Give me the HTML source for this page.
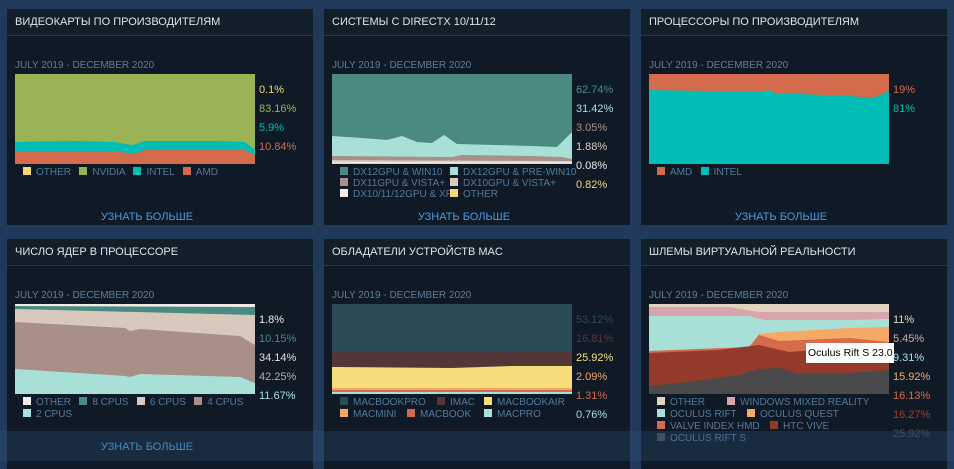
<!DOCTYPE html>
<html><head><meta charset="utf-8"><style>
*{margin:0;padding:0;box-sizing:border-box}
body{width:954px;height:461px;background:#21395a;overflow:hidden;position:relative;font-family:"Liberation Sans",sans-serif}
.p{position:absolute;width:306px;height:216px;background:#101a26}
.h{position:absolute;left:0;top:0;width:306px;height:27px;background:#131e2b;border-bottom:1px solid #1f3a55;color:#dfe4e8;font-size:11px;line-height:27px;padding-left:8px}
.d{position:absolute;left:8px;top:51px;font-size:10px;color:#5c7d99}
.c{position:absolute;left:8px;top:65px}
.pc{position:absolute;left:252px;font-size:11px}
.lg{position:absolute;font-size:10px;color:#53799b;white-space:nowrap}
.lg i{display:inline-block;width:8px;height:8px;margin-right:5px;vertical-align:0px}
.lk{position:absolute;top:202px;left:0;width:280px;text-align:center;font-size:11px;color:#4a9ae0}
.ov{position:absolute;left:0;top:431px;width:954px;height:30px;background:rgba(50,90,130,0.28)}
</style></head><body>

<!-- Panel 1 -->
<div class="p" style="left:7px;top:9px">
<div class="h">ВИДЕОКАРТЫ ПО ПРОИЗВОДИТЕЛЯМ</div>
<div class="d">JULY 2019 - DECEMBER 2020</div>
<svg class="c" width="240" height="90">
<rect width="240" height="90" fill="#9ab355"/>
<polygon fill="#00bdb5" points="0,68 60,67 100,68 110,70 118,71 130,67 200,67 230,68 240,76 240,90 0,90"/>
<polygon fill="#d36b4c" points="0,77 100,77 118,80 130,76 230,76 240,81 240,90 0,90"/>
</svg>
<div class="pc" style="top:75px;color:#f5d77a">0.1%</div>
<div class="pc" style="top:94px;color:#9ab355">83.16%</div>
<div class="pc" style="top:113px;color:#00bdb5">5.9%</div>
<div class="pc" style="top:132px;color:#d36b4c">10.84%</div>
<div class="lg" style="left:16px;top:158px"><i style="background:#f5d77a"></i>OTHER &nbsp; <i style="background:#9ab355"></i>NVIDIA &nbsp; <i style="background:#00bdb5"></i>INTEL &nbsp; <i style="background:#d36b4c"></i>AMD</div>
<div class="lk">УЗНАТЬ БОЛЬШЕ</div>
</div>

<!-- Panel 2 -->
<div class="p" style="left:324px;top:9px">
<div class="h">СИСТЕМЫ С DIRECTX 10/11/12</div>
<div class="d">JULY 2019 - DECEMBER 2020</div>
<svg class="c" width="240" height="90">
<rect width="240" height="90" fill="#4a8a80"/>
<polygon fill="#a8e0d8" points="0,62 30,64 55,66 70,62 85,68 100,69 112,61 125,70 200,72 225,73 240,58 240,90 0,90"/>
<polygon fill="#a89088" points="0,82 120,83 130,81 200,82 230,83 240,85 240,90 0,90"/>
<polygon fill="#d9c8bc" points="0,86 240,87 240,90 0,90"/>
<polygon fill="#f0ebe6" points="0,88 240,88 240,90 0,90"/>
<rect y="89" width="240" height="1" fill="#f5d77a"/>
</svg>
<div class="pc" style="top:75px;color:#4a8a80">62.74%</div>
<div class="pc" style="top:94px;color:#a8e0d8">31.42%</div>
<div class="pc" style="top:113px;color:#a89088">3.05%</div>
<div class="pc" style="top:132px;color:#d9c8bc">1.88%</div>
<div class="pc" style="top:151px;color:#f0ebe6">0.08%</div>
<div class="pc" style="top:170px;color:#f5d77a">0.82%</div>
<div class="lg" style="left:16px;top:158px;line-height:11px">
<span style="display:inline-block;width:110px"><i style="background:#4a8a80"></i>DX12GPU &amp; WIN10</span><i style="background:#a8e0d8"></i>DX12GPU &amp; PRE-WIN10<br>
<span style="display:inline-block;width:110px"><i style="background:#a89088"></i>DX11GPU &amp; VISTA+</span><i style="background:#d9c8bc"></i>DX10GPU &amp; VISTA+<br>
<span style="display:inline-block;width:110px"><i style="background:#f0ebe6"></i>DX10/11/12GPU &amp; XP</span><i style="background:#f5d77a"></i>OTHER</div>
<div class="lk">УЗНАТЬ БОЛЬШЕ</div>
</div>

<!-- Panel 3 -->
<div class="p" style="left:641px;top:9px">
<div class="h">ПРОЦЕССОРЫ ПО ПРОИЗВОДИТЕЛЯМ</div>
<div class="d">JULY 2019 - DECEMBER 2020</div>
<svg class="c" width="240" height="90">
<rect width="240" height="90" fill="#d36b4c"/>
<polygon fill="#00bdb5" points="0,16 60,17 110,18 115,17 120,16 125,19 200,22 225,24 240,17 240,90 0,90"/>
</svg>
<div class="pc" style="top:75px;color:#d36b4c">19%</div>
<div class="pc" style="top:94px;color:#00bdb5">81%</div>
<div class="lg" style="left:16px;top:158px"><i style="background:#d36b4c"></i>AMD &nbsp; <i style="background:#00bdb5"></i>INTEL</div>
<div class="lk">УЗНАТЬ БОЛЬШЕ</div>
</div>

<!-- Panel 4 -->
<div class="p" style="left:7px;top:239px;height:230px">
<div class="h">ЧИСЛО ЯДЕР В ПРОЦЕССОРЕ</div>
<div class="d">JULY 2019 - DECEMBER 2020</div>
<svg class="c" width="240" height="90">
<rect width="240" height="90" fill="#f0ebe6"/>
<polygon fill="#4a8a80" points="0,2 240,3 240,90 0,90"/>
<polygon fill="#d9c8bc" points="0,5 240,11 240,90 0,90"/>
<polygon fill="#a89088" points="0,18 110,24 115,27 125,25 225,32 240,41 240,90 0,90"/>
<polygon fill="#a8e0d8" points="0,65 110,72 115,73 125,70 225,73 240,79 240,90 0,90"/>
</svg>
<div class="pc" style="top:75px;color:#f0ebe6">1.8%</div>
<div class="pc" style="top:94px;color:#4a8a80">10.15%</div>
<div class="pc" style="top:113px;color:#e8e0d8">34.14%</div>
<div class="pc" style="top:132px;color:#c0aaa0">42.25%</div>
<div class="pc" style="top:151px;color:#a8e0d8">11.67%</div>
<div class="lg" style="left:16px;top:158px;line-height:12px"><i style="background:#f0ebe6"></i>OTHER &nbsp; <i style="background:#4a8a80"></i>8 CPUS &nbsp; <i style="background:#d9c8bc"></i>6 CPUS &nbsp; <i style="background:#a89088"></i>4 CPUS<br><i style="background:#a8e0d8"></i>2 CPUS</div>
<div class="lk">УЗНАТЬ БОЛЬШЕ</div>
</div>

<!-- Panel 5 -->
<div class="p" style="left:324px;top:239px;height:230px">
<div class="h">ОБЛАДАТЕЛИ УСТРОЙСТВ MAC</div>
<div class="d">JULY 2019 - DECEMBER 2020</div>
<svg class="c" width="240" height="90">
<rect width="240" height="90" fill="#2b4b57"/>
<polygon fill="#553638" points="0,47 80,48 160,47 240,47 240,90 0,90"/>
<polygon fill="#f7de7b" points="0,63 120,64 180,62 240,62 240,90 0,90"/>
<polygon fill="#f5a965" points="0,84 240,84 240,90 0,90"/>
<polygon fill="#d36b4c" points="0,86 240,86 240,90 0,90"/>
<rect y="88" width="240" height="2" fill="#a8e0d8"/>
</svg>
<div class="pc" style="top:75px;color:#2b4b57">53.12%</div>
<div class="pc" style="top:94px;color:#553638">16.81%</div>
<div class="pc" style="top:113px;color:#f7de7b">25.92%</div>
<div class="pc" style="top:132px;color:#f5a965">2.09%</div>
<div class="pc" style="top:151px;color:#d36b4c">1.31%</div>
<div class="pc" style="top:170px;color:#a8e0d8">0.76%</div>
<div class="lg" style="left:16px;top:158px;line-height:12px">
<span style="display:inline-block;width:97px"><i style="background:#2b4b57"></i>MACBOOKPRO</span><span style="display:inline-block;width:47px"><i style="background:#553638"></i>IMAC</span><i style="background:#f7de7b"></i>MACBOOKAIR<br>
<span style="display:inline-block;width:67px"><i style="background:#f5a965"></i>MACMINI</span><span style="display:inline-block;width:77px"><i style="background:#d36b4c"></i>MACBOOK</span><i style="background:#a8e0d8"></i>MACPRO</div>
</div>

<!-- Panel 6 -->
<div class="p" style="left:641px;top:239px;height:230px">
<div class="h">ШЛЕМЫ ВИРТУАЛЬНОЙ РЕАЛЬНОСТИ</div>
<div class="d">JULY 2019 - DECEMBER 2020</div>
<svg class="c" width="240" height="90">
<rect width="240" height="90" fill="#e2d4c0"/>
<polygon fill="#d9a5ab" points="0,3 80,3 110,8 240,8 240,90 0,90"/>
<polygon fill="#a8e0d8" points="0,12 100,12 115,16 200,16 240,15 240,90 0,90"/>
<polygon fill="#f5a965" points="0,47 100,43 110,30 130,28 200,24 240,23 240,90 0,90"/>
<polygon fill="#d36b4c" points="0,47 100,43 110,31 130,37 200,34 240,38 240,90 0,90"/>
<polygon fill="#933a2a" points="0,49 70,46 110,41 140,48 180,45 240,52 240,90 0,90"/>
<polygon fill="#4a4a4c" points="0,82 40,78 90,71 110,65 130,64 150,70 200,69 240,66 240,90 0,90"/>
</svg>
<div class="pc" style="top:75px;color:#e2d4c0">11%</div>
<div class="pc" style="top:94px;color:#d9a5ab">5.45%</div>
<div class="pc" style="top:113px;color:#a8e0d8">9.31%</div>
<div class="pc" style="top:132px;color:#f5a965">15.92%</div>
<div class="pc" style="top:151px;color:#d36b4c">16.13%</div>
<div class="pc" style="top:170px;color:#a83a2a">16.27%</div>
<div class="pc" style="top:189px;color:#4a4a4c">25.92%</div>
<div style="position:absolute;left:165px;top:104px;width:88px;height:20px;background:#fff;color:#000;font-size:10.5px;line-height:20px;padding-left:2px;white-space:nowrap;overflow:hidden">Oculus Rift S 23.0</div>
<div class="lg" style="left:16px;top:158px;line-height:12px">
<span style="display:inline-block;width:70px"><i style="background:#e2d4c0"></i>OTHER</span><i style="background:#d9a5ab"></i>WINDOWS MIXED REALITY<br>
<span style="display:inline-block;width:90px"><i style="background:#a8e0d8"></i>OCULUS RIFT</span><i style="background:#f5a965"></i>OCULUS QUEST<br>
<span style="display:inline-block;width:113px"><i style="background:#d36b4c"></i>VALVE INDEX HMD</span><i style="background:#933a2a"></i>HTC VIVE<br>
<i style="background:#4a4a4c"></i>OCULUS RIFT S</div>
</div>

<div class="ov"></div>
</body></html>
